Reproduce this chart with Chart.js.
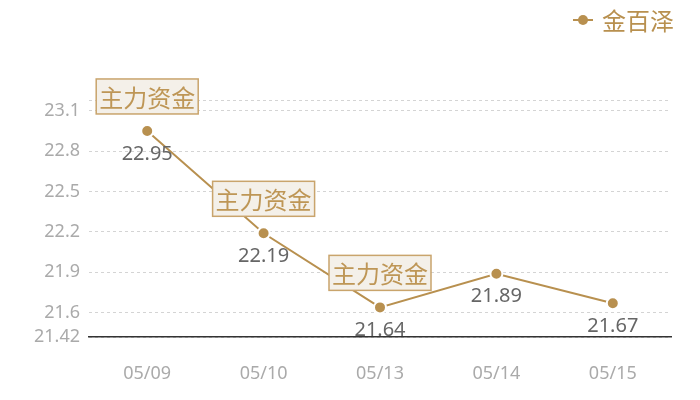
<!DOCTYPE html>
<html>
<head>
<meta charset="utf-8">
<script src="https://cdn.jsdelivr.net/npm/chart.js@4/dist/chart.umd.min.js"></script>
<style>
  html, body { margin: 0; padding: 0; background: #fff; }
  canvas { display: block; }
</style>
</head>
<body>
<canvas id="c" width="700" height="400"></canvas>
<script>
const dates = ['05/09', '05/10', '05/13', '05/14', '05/15']
const prices = [22.95, 22.19, 21.64, 21.89, 21.67]
const markedIdx = [0, 1, 2]
const markText = '主力资金'
const seriesName = '金百泽'
const yTicks = [21.42, 21.6, 21.9, 22.2, 22.5, 22.8, 23.1, 23.18]

const gold = '#b8904f'
const font = '"Noto Sans", "Noto Sans CJK SC", sans-serif'

// labels under points + "主力资金" boxes above marked points + legend
const overlay = {
  id: 'overlay',
  afterDatasetsDraw (chart) {
    const ctx = chart.ctx
    const x = chart.scales.x
    const y = chart.scales.y
    ctx.save()
    ctx.textAlign = 'center'
    ctx.textBaseline = 'middle'

    ctx.font = '20px ' + font
    ctx.fillStyle = '#666'
    prices.forEach((v, i) => {
      ctx.fillText(v.toFixed(2), x.getPixelForValue(i), y.getPixelForValue(v) + 23)
    })

    ctx.font = '24px "Noto Sans CJK SC", sans-serif'
    markedIdx.forEach(i => {
      const px = x.getPixelForValue(i)
      const py = y.getPixelForValue(prices[i])
      const w = 102, h = 35
      const bx = px - w / 2, by = py - 17 - h
      ctx.fillStyle = '#f4f0e9'
      ctx.fillRect(bx, by, w, h)
      ctx.strokeStyle = '#c9a46c'
      ctx.lineWidth = 1.5
      ctx.strokeRect(bx, by, w, h)
      ctx.fillStyle = '#be9656'
      ctx.fillText(markText, px, by + h / 2 + 1)
    })

    // legend
    ctx.strokeStyle = gold
    ctx.lineWidth = 2
    ctx.beginPath()
    ctx.moveTo(573, 20)
    ctx.lineTo(593, 20)
    ctx.stroke()
    ctx.fillStyle = gold
    ctx.beginPath()
    ctx.arc(583, 20, 5, 0, Math.PI * 2)
    ctx.fill()
    ctx.textAlign = 'left'
    ctx.fillText(seriesName, 602, 21)
    ctx.restore()
  }
}

new Chart(document.getElementById('c'), {
  type: 'line',
  data: {
    labels: dates,
    datasets: [{
      label: seriesName,
      data: prices,
      borderColor: gold,
      borderWidth: 2,
      backgroundColor: gold,
      pointRadius: 6,
      pointBackgroundColor: gold,
      pointBorderColor: '#fff',
      pointBorderWidth: 2,
      tension: 0
    }]
  },
  options: {
    responsive: false,
    animation: false,
    devicePixelRatio: 1,
    layout: { padding: { top: 100, right: 29, left: 0, bottom: 0 } },
    plugins: {
      legend: { display: false },
      tooltip: { enabled: false }
    },
    scales: {
      x: {
        offset: true,
        grid: { display: false },
        border: { display: true, color: '#333', width: 1.5 },
        ticks: { color: '#aaa', font: { size: 18, family: font }, padding: 18 },
        afterFit (scale) { scale.height = 63 }
      },
      y: {
        min: 21.42,
        max: 23.18,
        afterBuildTicks (scale) { scale.ticks = yTicks.map(v => ({ value: v })) },
        grid: { color: '#d4d4d4', drawTicks: false },
        border: { display: false, dash: [3, 3] },
        ticks: {
          color: '#aaa',
          font: { size: 18, family: font },
          padding: 9,
          callback: v => (v === 23.18 ? '' : String(v))
        },
        afterFit (scale) { scale.width = 89 }
      }
    }
  },
  plugins: [overlay]
})
</script>
</body>
</html>
